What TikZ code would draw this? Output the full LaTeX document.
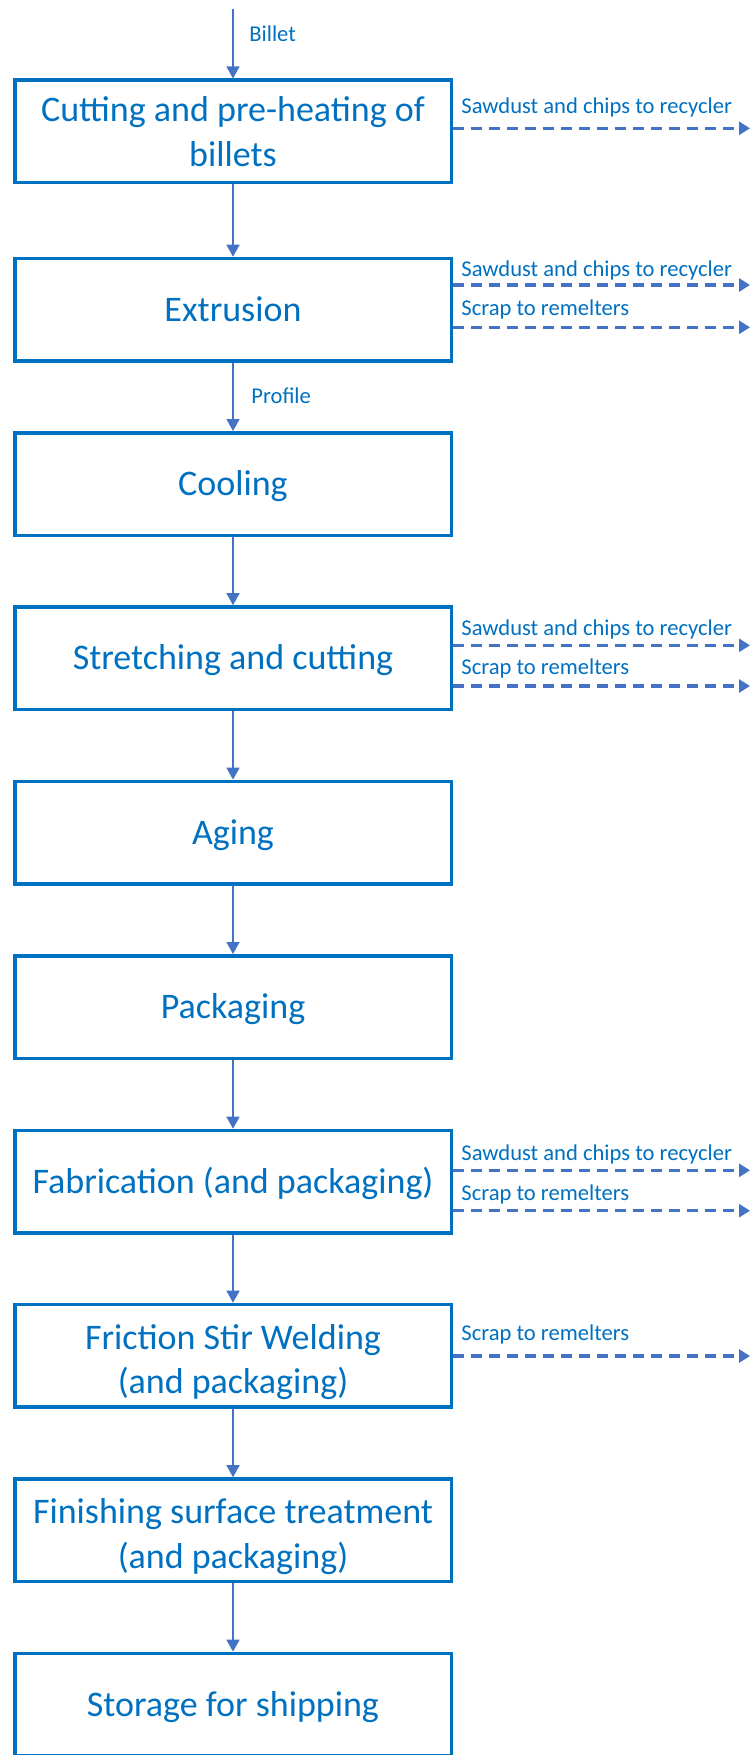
\documentclass[tikz,border=0pt]{standalone}
\usepackage{fontspec}
\setmainfont{Carlito}
\usetikzlibrary{arrows.meta}
\definecolor{boxblue}{HTML}{0070C0}
\definecolor{linkblue}{HTML}{4472C4}
\newcommand{\lowerstrut}{\rule{0pt}{19pt}}
\begin{document}
\begin{tikzpicture}[x=0.5pt, y=-0.5pt,
  box/.style={rectangle, draw=boxblue, line width=1.75pt, text=boxblue, minimum width=218.25pt, minimum height=51.25pt, inner sep=0pt, align=center, font=\fontsize{18}{22.2}\selectfont},
  single/.style={text height=13.5pt, text depth=1.8pt},
  flow/.style={draw=linkblue, line width=0.75pt, -{Triangle[width=6.5pt, length=6pt]}},
  waste/.style={draw=linkblue, line width=1.75pt, dash pattern=on 5.5pt off 3.5pt, -{Triangle[width=6.5pt, length=5.5pt]}},
  lbl/.style={text=boxblue, inner sep=0pt, anchor=base west, font=\fontsize{11.3}{13.5}\selectfont}]
\useasboundingbox (0,0) rectangle (750,1755);
\node[box] (cut) at (233,131.5){Cutting and pre-heating of\\billets};
\node[box, single] (extr) at (233,309.7){Extrusion};
\node[box, single] (cool) at (233,484){Cooling};
\node[box, single] (stretch) at (233,658.2){Stretching and cutting};
\node[box, single] (aging) at (233,832.6){Aging};
\node[box, single] (pack) at (233,1007){Packaging};
\node[box, single] (fab) at (233,1181.7){Fabrication (and packaging)};
\node[box] (fsw) at (233,1355.7){\lowerstrut Friction Stir Welding\\(and packaging)};
\node[box] (finish) at (233,1530.2){\lowerstrut Finishing surface treatment\\(and packaging)};
\node[box, single] (store) at (233,1704.6){Storage for shipping};
\coordinate (billet) at (233,9);
\draw[flow](billet) -- (cut);
\node[lbl] (billetlbl) at (249,41.7){Billet};
\draw[flow](cut) -- (extr);
\draw[flow](extr) -- (cool);
\node[lbl] (proflbl) at (251,403){Profile};
\draw[flow](cool) -- (stretch);
\draw[flow](stretch) -- (aging);
\draw[flow](aging) -- (pack);
\draw[flow](pack) -- (fab);
\draw[flow](fab) -- (fsw);
\draw[flow](fsw) -- (finish);
\draw[flow](finish) -- (store);
\coordinate (w1) at (750,128.3);
\draw[waste](cut.east |- w1) -- (w1);
\node[lbl] (l1) at (461,113.3){Sawdust and chips to recycler};
\coordinate (w2) at (750,285);
\draw[waste](extr.east |- w2) -- (w2);
\node[lbl] (l2) at (461,276.7){Sawdust and chips to recycler};
\coordinate (w3) at (750,327.3);
\draw[waste](extr.east |- w3) -- (w3);
\node[lbl] (l3) at (461,315){Scrap to remelters};
\coordinate (w4) at (750,645.3);
\draw[waste](stretch.east |- w4) -- (w4);
\node[lbl] (l4) at (461,635){Sawdust and chips to recycler};
\coordinate (w5) at (750,686);
\draw[waste](stretch.east |- w5) -- (w5);
\node[lbl] (l5) at (461,674.3){Scrap to remelters};
\coordinate (w6) at (750,1170.3);
\draw[waste](fab.east |- w6) -- (w6);
\node[lbl] (l6) at (461,1160){Sawdust and chips to recycler};
\coordinate (w7) at (750,1210.7);
\draw[waste](fab.east |- w7) -- (w7);
\node[lbl] (l7) at (461,1200){Scrap to remelters};
\coordinate (w8) at (750,1356);
\draw[waste](fsw.east |- w8) -- (w8);
\node[lbl] (l8) at (461,1340.7){Scrap to remelters};
\end{tikzpicture}
\end{document}
